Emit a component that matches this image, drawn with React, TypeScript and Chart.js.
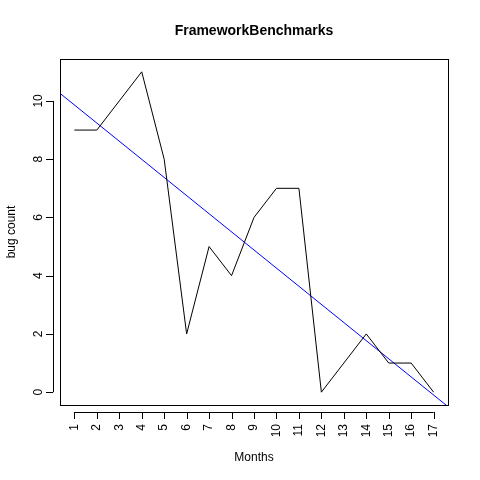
import React, { useEffect, useRef } from "react";
import { Chart, registerables } from "chart.js";

Chart.register(...registerables);

const months = [1, 2, 3, 4, 5, 6, 7, 8, 9, 10, 11, 12, 13, 14, 15, 16, 17];
const bugCounts = [9, 9, 10, 11, 8, 2, 5, 4, 6, 7, 7, 0, 1, 2, 1, 1, 0];
const yTicks = [0, 2, 4, 6, 8, 10];

// least squares fit, as abline(lm(...)) does
const n = months.length;
const mx = months.reduce((a, b) => a + b, 0) / n;
const my = bugCounts.reduce((a, b) => a + b, 0) / n;
let sxy = 0;
let sxx = 0;
months.forEach((m, i) => {
	sxy += (m - mx) * (bugCounts[i] - my);
	sxx += (m - mx) * (m - mx);
});
const slope = sxy / sxx;
const intercept = my - slope * mx;

const X_MIN = 0.36;
const X_MAX = 17.64;
const Y_MIN = -0.44;
const Y_MAX = 11.44;

const FONT = "12px 'Liberation Sans', Arial, sans-serif";

const axesPlugin = {
	id: "rAxes",
	afterDraw(chart: any) {
		const { ctx, chartArea: a, scales } = chart;
		const xs = scales.x;
		const ys = scales.y;
		ctx.save();
		ctx.strokeStyle = "#000";
		ctx.lineWidth = 1;
		ctx.strokeRect(a.left + 0.5, a.top + 0.5, a.right - a.left, a.bottom - a.top);
		ctx.fillStyle = "#000";
		ctx.font = FONT;

		// x axis
		const xAxisY = a.bottom + 7;
		ctx.beginPath();
		ctx.moveTo(xs.getPixelForValue(months[0]), xAxisY + 0.5);
		ctx.lineTo(xs.getPixelForValue(months[n - 1]), xAxisY + 0.5);
		months.forEach((m) => {
			const px = Math.round(xs.getPixelForValue(m)) + 0.5;
			ctx.moveTo(px, xAxisY);
			ctx.lineTo(px, xAxisY + 7);
		});
		ctx.stroke();
		months.forEach((m) => {
			ctx.save();
			ctx.translate(xs.getPixelForValue(m), xAxisY + 12);
			ctx.rotate(-Math.PI / 2);
			ctx.textAlign = "right";
			ctx.textBaseline = "middle";
			ctx.fillText(String(m), 0, 0);
			ctx.restore();
		});

		// y axis
		const yAxisX = a.left - 7;
		ctx.beginPath();
		ctx.moveTo(yAxisX + 0.5, ys.getPixelForValue(yTicks[0]));
		ctx.lineTo(yAxisX + 0.5, ys.getPixelForValue(yTicks[yTicks.length - 1]));
		yTicks.forEach((t) => {
			const py = Math.round(ys.getPixelForValue(t)) + 0.5;
			ctx.moveTo(yAxisX, py);
			ctx.lineTo(yAxisX - 7, py);
		});
		ctx.stroke();
		yTicks.forEach((t) => {
			ctx.save();
			ctx.translate(yAxisX - 12, ys.getPixelForValue(t));
			ctx.rotate(-Math.PI / 2);
			ctx.textAlign = "center";
			ctx.textBaseline = "bottom";
			ctx.fillText(String(t), 0, 4);
			ctx.restore();
		});

		// titles
		ctx.textAlign = "center";
		ctx.textBaseline = "middle";
		ctx.fillText("Months", (a.left + a.right) / 2, 458);
		ctx.save();
		ctx.translate(12, (a.top + a.bottom) / 2);
		ctx.rotate(-Math.PI / 2);
		ctx.fillText("bug count", 0, 0);
		ctx.restore();
		ctx.font = "bold 14px 'Liberation Sans', Arial, sans-serif";
		ctx.fillText("FrameworkBenchmarks", (a.left + a.right) / 2, 31);
		ctx.restore();
	},
};

const App: React.FC = () => {
	const chartRef = useRef<HTMLCanvasElement>(null);
	const chartInstanceRef = useRef<Chart>();

	useEffect(() => {
		document.body.style.margin = "0";
		if (chartRef.current) {
			if (chartInstanceRef.current) chartInstanceRef.current.destroy();
			chartInstanceRef.current = new Chart(chartRef.current, {
				type: "line",
				data: {
					datasets: [
						{
							data: months.map((m, i) => ({ x: m, y: bugCounts[i] })),
							borderColor: "#000",
							borderWidth: 1,
							pointRadius: 0,
							fill: false,
						},
						{
							data: [
								{ x: X_MIN, y: intercept + slope * X_MIN },
								{ x: X_MAX, y: intercept + slope * X_MAX },
							],
							borderColor: "#0000ff",
							borderWidth: 1,
							pointRadius: 0,
							fill: false,
						},
					],
				},
				options: {
					responsive: false,
					animation: false,
					layout: { padding: { left: 60, right: 32, top: 59, bottom: 75 } },
					plugins: { legend: { display: false }, tooltip: { enabled: false } },
					scales: {
						x: { type: "linear", min: X_MIN, max: X_MAX, display: false },
						y: { type: "linear", min: Y_MIN, max: Y_MAX, display: false },
					},
				},
				plugins: [axesPlugin],
			});
		}
		return () => {
			if (chartInstanceRef.current) chartInstanceRef.current.destroy();
		};
	}, []);

	return (
		<canvas
			ref={chartRef}
			width={480}
			height={480}
			style={{ display: "block", width: "480px", height: "480px", backgroundColor: "white" }}
		/>
	);
};

export default App;
